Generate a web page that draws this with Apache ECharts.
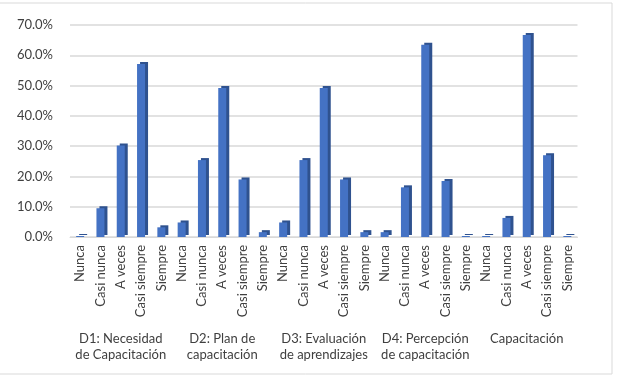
<!DOCTYPE html>
<html>
<head>
<meta charset="utf-8">
<script src="https://cdn.jsdelivr.net/npm/echarts@6/dist/echarts.min.js"></script>
<style>
  html, body { margin: 0; padding: 0; background: #fff; }
  #main { width: 622px; height: 375px; }
</style>
</head>
<body>
<div id="main"></div>
<script>
var responses = ['Nunca', 'Casi nunca', 'A veces', 'Casi siempre', 'Siempre'];
var groups = ['D1: Necesidad\nde Capacitación', 'D2: Plan de\ncapacitación',
  'D3: Evaluación\nde aprendizajes', 'D4: Percepción\nde capacitación', 'Capacitación'];
var d1 = [0, 9.5, 30.2, 57.1, 3.2];
var d2 = [4.8, 25.4, 49.2, 19.0, 1.6];
var d3 = [4.8, 25.4, 49.2, 19.0, 1.6];
var d4 = [1.6, 16.4, 63.5, 18.5, 0];
var cap = [0, 6.3, 66.7, 27.0, 0];

var categories = [];
groups.forEach(function () { categories = categories.concat(responses); });
var values = [].concat(d1, d2, d3, d4, cap);

var font = 'Lato, "Open Sans", sans-serif';
var myChart = echarts.init(document.getElementById('main'));

myChart.setOption({
    animation: false,
    graphic: [{
        type: 'rect',
        shape: { x: -2, y: 3, width: 614, height: 371 },
        style: { fill: null, stroke: '#d9d9d9', lineWidth: 1 }
    }],
    grid: { left: 70, right: 44.5, top: 25, bottom: 138 },
    xAxis: [{
        type: 'category',
        data: categories,
        axisLine: { lineStyle: { color: '#d9d9d9' } },
        axisTick: { show: false },
        axisLabel: {
            interval: 0, rotate: 90, margin: 8,
            fontFamily: font, fontSize: 13, color: '#404040'
        }
    }, {
        type: 'category',
        data: groups,
        position: 'bottom',
        axisLine: { show: false },
        axisTick: { show: false },
        axisLabel: {
            interval: 0, margin: 94, lineHeight: 16,
            fontFamily: font, fontSize: 13, color: '#404040'
        }
    }],
    yAxis: {
        type: 'value',
        min: 0, max: 70, interval: 10,
        axisLine: { show: false },
        axisTick: { show: false },
        splitLine: { lineStyle: { color: '#d9d9d9', width: 1.5 } },
        axisLabel: {
            margin: 17,
            fontFamily: font, fontSize: 13, color: '#404040',
            formatter: function (v) { return v.toFixed(1) + '%'; }
        }
    },
    series: [{
        type: 'bar',
        data: values,
        xAxisIndex: 0,
        barWidth: 8,
        barMinHeight: 1,
        itemStyle: {
            color: '#4472c4',
            shadowColor: '#2f528f',
            shadowOffsetX: 3,
            shadowOffsetY: -2,
            shadowBlur: 0
        }
    }]
});
</script>
</body>
</html>
